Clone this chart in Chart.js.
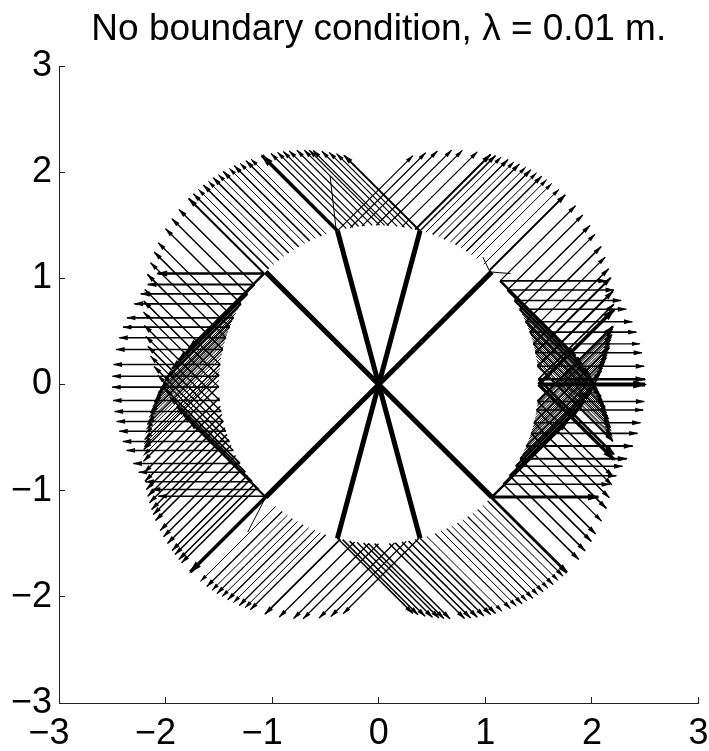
<!DOCTYPE html>
<html>
<head>
<meta charset="utf-8">
<title>No boundary condition</title>
<script src="https://cdn.jsdelivr.net/npm/chart.js@4/dist/chart.umd.min.js"></script>
<style>
    html, body { margin: 0; padding: 0; background: #fff; }
    canvas { display: block; }
</style>
</head>
<body>
<canvas id="chart-rays" width="709" height="751"></canvas>
<script>
const titleText = 'No boundary condition, \u03bb = 0.01 m.';
const axisTicks = [-3, -2, -1, 0, 1, 2, 3];

// spokes from the origin out to the circle
const spokeX = [1.061, 0.388, -0.388, -1.061, -1.061, -0.388, 0.388, 1.061];
const spokeY = [1.061, 1.449, 1.449, 1.061, -1.061, -1.449, -1.449, -1.061];

// thin stubs without a head: x0, y0, x1, y1
const stubX0 = [1.04, 1.05, -0.40, -1.06];
const stubY0 = [1.067, 1.06, 1.46, -1.06];
const stubX1 = [0.977, 1.236, -0.456, -1.229];
const stubY1 = [1.20, 1.045, 1.96, -1.39];

// ray start points on the circle, sector by sector
const rightX = [1.139, 1.207, 1.274, 1.322, 1.379, 1.417, 1.450, 1.470, 1.490, 1.499, 1.500, 1.491, 1.481, 1.456, 1.428, 1.383, 1.327, 1.287, 1.229, 1.169, 1.061];
const rightY = [0.976, 0.890, 0.791, 0.709, 0.591, 0.493, 0.383, 0.299, 0.172, 0.050, 0.000, -0.160, -0.240, -0.360, -0.460, -0.580, -0.700, -0.770, -0.860, -0.940, -1.060];
const rightFlatWidth = [1.6, 1.6, 1.6, 1.6, 1.6, 1.6, 1.3, 1.6, 1.6, 2.5, 4, 1.6, 1.3, 1.6, 1.6, 2, 2, 1.6, 1.6, 1.6, 3];
const rightUpWidth = [1.3, 1.3, 1.6, 1.3, 1.6, 1.3, 1.6, 2, 2, 1.6, 3.5, 2.5, 1.6, 1.6, 1.3, 1.6, 2, 2.4, 2.4, 2.4, 2.4];
const rightDownWidth = [2.4, 2.4, 2.4, 2.4, 2, 1.6, 1.6, 1.3, 1.6, 2.5, 3.5, 1.6, 1.3, 1.6, 1.6, 1.3, 1.6, 1.6, 1.6, 1.6, 1.8];

// the black wedges of arrow heads right of the circle need many more rays
const rightUpDenseX = [1.489, 1.486, 1.481, 1.477, 1.473, 1.465, 1.460, 1.454, 1.446, 1.437, 1.429, 1.418, 1.409, 1.396, 1.383, 1.366, 1.347];
const rightUpDenseY = [-0.185, -0.205, -0.240, -0.262, -0.285, -0.320, -0.345, -0.370, -0.400, -0.430, -0.455, -0.490, -0.515, -0.550, -0.580, -0.620, -0.660];
const rightDownDenseX = [1.488, 1.485, 1.481, 1.475, 1.470, 1.464, 1.459, 1.450, 1.443, 1.434, 1.424, 1.414, 1.403, 1.392, 1.375, 1.361, 1.345];
const rightDownDenseY = [0.190, 0.215, 0.235, 0.270, 0.300, 0.325, 0.350, 0.385, 0.410, 0.440, 0.470, 0.500, 0.530, 0.560, 0.600, 0.630, 0.665];
const rightDenseWidth = [1, 1, 1, 1, 1, 1, 1, 1, 1, 1, 1, 1, 1, 1, 1, 1, 1];

const leftX = [-1.076, -1.167, -1.233, -1.293, -1.362, -1.399, -1.434, -1.463, -1.488, -1.498, -1.500, -1.492, -1.478, -1.459, -1.434, -1.401, -1.365, -1.302, -1.252, -1.188, -1.128, -1.069];
const leftY = [1.045, 0.942, 0.854, 0.760, 0.628, 0.540, 0.440, 0.330, 0.188, 0.078, -0.025, -0.151, -0.254, -0.348, -0.440, -0.537, -0.621, -0.744, -0.826, -0.916, -0.989, -1.052];
const leftFlatWidth = [2.5, 1.8, 1.8, 1.8, 1.6, 1.6, 1.6, 1.6, 1.6, 1.6, 1.6, 1.6, 1.6, 1.6, 1.6, 1.6, 1.6, 1.6, 1.6, 1.6, 1.6, 1.6];
const leftUpWidth = [2, 1.5, 1.5, 1.5, 1.3, 1.5, 1.3, 1.5, 1.3, 1.5, 1.3, 1.5, 1.3, 1.5, 1.3, 1.5, 1.3, 1.8, 1.8, 2, 2, 2];

const leftDownX = [-1.076, -1.167, -1.233, -1.293, -1.362, -1.399, -1.434, -1.463, -1.488, -1.497, -1.500, -1.495, -1.486, -1.473, -1.460, -1.444, -1.424, -1.408, -1.386, -1.343, -1.312, -1.275, -1.232, -1.204, -1.168, -1.142, -1.061];
const leftDownY = [1.045, 0.942, 0.854, 0.760, 0.628, 0.540, 0.440, 0.330, 0.189, 0.095, -0.015, -0.124, -0.204, -0.282, -0.345, -0.407, -0.470, -0.517, -0.573, -0.668, -0.727, -0.790, -0.856, -0.894, -0.941, -0.972, -1.060];
const leftDownWidth = [2.4, 2.4, 2.4, 2.2, 1.5, 1.3, 1.5, 1.5, 1.5, 1.5, 1.5, 1.5, 1.5, 1.5, 1.5, 1.5, 1.5, 1.5, 1.5, 1.5, 1.5, 1.5, 1.5, 1.5, 1.5, 1.5, 3.5];

const leftDenseX = [-1.316, -1.342, -1.375, -1.387, -1.414, -1.424, -1.446, -1.456, -1.472, -1.479, -1.492, -1.495, -1.499];
const leftDenseY = [0.720, 0.670, 0.600, 0.570, 0.500, 0.470, 0.400, 0.360, 0.290, 0.250, 0.150, 0.120, 0.040];
const leftDenseWidth = [1, 1, 1, 1, 1, 1, 1, 1, 1, 1, 1, 1, 1];

const upperRightX = [0.388, 0.441, 0.506, 0.562, 0.612, 0.672, 0.720, 0.773, 0.821, 0.869, 0.917, 0.984, 1.042];
const upperRightY = [1.449, 1.434, 1.412, 1.391, 1.369, 1.341, 1.316, 1.286, 1.255, 1.223, 1.187, 1.132, 1.079];
const upperRightWidth = [1.5, 1, 1.5, 1, 1.5, 1, 1.5, 1, 1.5, 1, 1, 1, 2];

const topUpX = [-0.386, -0.267, -0.157, -0.023, 0.077, 0.217, 0.342];
const topUpY = [1.449, 1.476, 1.492, 1.500, 1.498, 1.484, 1.460];
const topUpWidth = [1.2, 1.2, 1.2, 1.2, 1.2, 1.2, 2];

const topLeftX = [0.382, 0.311, 0.242, 0.173, 0.092, 0.055, 0.008, -0.061, -0.133, -0.189, -0.242, -0.304, -0.388];
const topLeftY = [1.451, 1.467, 1.480, 1.490, 1.497, 1.499, 1.500, 1.499, 1.494, 1.488, 1.480, 1.469, 1.449];
const topLeftWidth = [2, 1.2, 1.2, 1.2, 1.2, 1.2, 1.2, 1.2, 1.2, 1.2, 1.2, 1.2, 3.5];

const upperLeftX = [-1.032, -0.985, -0.938, -0.891, -0.845, -0.798, -0.751, -0.695, -0.648, -0.594, -0.538, -0.492];
const upperLeftY = [1.089, 1.131, 1.171, 1.207, 1.239, 1.270, 1.298, 1.329, 1.353, 1.377, 1.400, 1.417];
const upperLeftWidth = [1.5, 1, 1.5, 1, 1.5, 1, 1.5, 1, 1.5, 1, 1.5, 1];

const lowerLeftX = [-0.966, -0.906, -0.857, -0.810, -0.763, -0.710, -0.657, -0.601, -0.548, -0.498];
const lowerLeftY = [-1.148, -1.196, -1.231, -1.263, -1.291, -1.321, -1.348, -1.374, -1.396, -1.415];
const lowerLeftWidth = [1, 1.3, 1, 1.3, 1, 1.3, 1, 1.3, 1, 1.3];

const bottomDownX = [-0.360, -0.226, -0.092, -0.002, 0.148, 0.258, 0.373];
const bottomDownY = [-1.456, -1.483, -1.497, -1.500, -1.493, -1.478, -1.453];
const bottomDownWidth = [1.8, 1.3, 1.3, 1.3, 1.3, 1.3, 1.3];

const bottomRightX = [-0.388, -0.339, -0.273, -0.204, -0.142, -0.096, -0.039, 0.098, 0.154, 0.217, 0.279, 0.342, 0.388];
const bottomRightY = [-1.449, -1.461, -1.475, -1.486, -1.493, -1.497, -1.499, -1.497, -1.492, -1.484, -1.474, -1.460, -1.449];
const bottomRightWidth = [1.5, 1.5, 1.5, 1.5, 1.5, 1.5, 1.5, 1.5, 1.5, 1.5, 1.5, 1.5, 1.5];

const lowerRightX = [0.451, 0.529, 0.585, 0.638, 0.685, 0.738, 0.788, 0.835, 0.882, 0.929, 0.976, 1.022, 1.053];
const lowerRightY = [-1.431, -1.404, -1.381, -1.358, -1.334, -1.306, -1.276, -1.246, -1.213, -1.178, -1.139, -1.098, -1.068];
const lowerRightWidth = [1, 1.2, 1, 1.2, 1, 1.2, 1, 1.2, 1, 1.2, 1, 1.3, 1.5];

// all rays have length 1
const DIAGONAL = 0.7071;
const EAST = [1, 0];
const WEST = [-1, 0];
const NORTH_EAST = [DIAGONAL, DIAGONAL];
const NORTH_WEST = [-DIAGONAL, DIAGONAL];
const SOUTH_WEST = [-DIAGONAL, -DIAGONAL];
const SOUTH_EAST = [DIAGONAL, -DIAGONAL];

let datasets = [];

function addSegment(x0, y0, x1, y1, width, arrow)
{
    datasets.push({
        data: [{x: x0, y: y0}, {x: x1, y: y1}],
        borderColor: '#000',
        borderWidth: width,
        pointRadius: 0,
        showLine: true,
        isArrow: arrow
    });
}

function addRays(xs, ys, dir, widths)
{
    xs.forEach((x, i) => {
        addSegment(x, ys[i], x + dir[0], ys[i] + dir[1], widths[i], true);
    });
}

addRays(rightX, rightY, NORTH_EAST, rightUpWidth);
addRays(rightX, rightY, SOUTH_EAST, rightDownWidth);
addRays(rightUpDenseX, rightUpDenseY, NORTH_EAST, rightDenseWidth);
addRays(rightDownDenseX, rightDownDenseY, SOUTH_EAST, rightDenseWidth);
addRays(rightX, rightY, EAST, rightFlatWidth);
addRays(leftX, leftY, NORTH_WEST, leftUpWidth);
addRays(leftDownX, leftDownY, SOUTH_WEST, leftDownWidth);
addRays(leftDenseX, leftDenseY, SOUTH_WEST, leftDenseWidth);
addRays(leftX, leftY, WEST, leftFlatWidth);
addRays(upperRightX, upperRightY, NORTH_EAST, upperRightWidth);
addRays(topUpX, topUpY, NORTH_EAST, topUpWidth);
addRays(topLeftX, topLeftY, NORTH_WEST, topLeftWidth);
addRays(upperLeftX, upperLeftY, NORTH_WEST, upperLeftWidth);
addRays(lowerLeftX, lowerLeftY, SOUTH_WEST, lowerLeftWidth);
addRays(bottomDownX, bottomDownY, SOUTH_WEST, bottomDownWidth);
addRays(bottomRightX, bottomRightY, SOUTH_EAST, bottomRightWidth);
addRays(lowerRightX, lowerRightY, SOUTH_EAST, lowerRightWidth);

stubX0.forEach((x, i) => {
    addSegment(x, stubY0[i], stubX1[i], stubY1[i], 1, false);
});
spokeX.forEach((x, i) => {
    addSegment(0, 0, x, spokeY[i], 5, false);
});

// filled heads at the end of each ray
const arrowHeads = {
    id: 'arrowHeads',
    afterDatasetsDraw(chart) {
        const ctx = chart.ctx;
        const scaleX = chart.scales.x;
        const scaleY = chart.scales.y;
        ctx.save();
        ctx.fillStyle = '#000';
        chart.data.datasets.forEach((set) => {
            if (!set.isArrow) {
                return;
            }
            const x0 = scaleX.getPixelForValue(set.data[0].x);
            const y0 = scaleY.getPixelForValue(set.data[0].y);
            const x1 = scaleX.getPixelForValue(set.data[1].x);
            const y1 = scaleY.getPixelForValue(set.data[1].y);
            const angle = Math.atan2(y1 - y0, x1 - x0);
            const length = 6 + set.borderWidth * 1.5;
            const half = 1.3 + set.borderWidth * 0.7;
            ctx.save();
            ctx.translate(x1, y1);
            ctx.rotate(angle);
            ctx.beginPath();
            ctx.moveTo(set.borderWidth * 0.5, 0);
            ctx.lineTo(-length, half);
            ctx.lineTo(-length, -half);
            ctx.closePath();
            ctx.fill();
            ctx.restore();
        });
        ctx.restore();
    }
};

const tickFont = { family: '"Liberation Sans", Arial, sans-serif', size: 36 };

function tickLabel(value)
{
    // the minus hangs left of the digit, so pad the other side to keep the digit on the tick
    return value < 0 ? '\u2212' + Math.abs(value) + '\u2007' : String(value);
}

function tickLabelY(value)
{
    return value < 0 ? '\u2212' + Math.abs(value) : String(value);
}

new Chart('chart-rays', {
    type: 'scatter',
    data: { datasets: datasets },
    plugins: [arrowHeads],
    options: {
        responsive: false,
        animation: false,
        layout: { padding: { top: 0, right: 10.5, bottom: 0, left: 0 } },
        plugins: {
            legend: { display: false },
            tooltip: { enabled: false },
            title: {
                display: true,
                text: titleText,
                color: '#000',
                fullSize: false,
                font: { family: '"Liberation Sans", Arial, sans-serif', size: 37, weight: 'normal', lineHeight: 1.2 },
                padding: { top: 8, bottom: 13.6 }
            }
        },
        scales: {
            x: {
                type: 'linear',
                min: axisTicks[0],
                max: axisTicks[axisTicks.length - 1],
                afterBuildTicks: (scale) => { scale.ticks = axisTicks.map((v) => ({ value: v })); },
                afterFit: (scale) => { scale.height = 48; scale.paddingLeft = 0; scale.paddingRight = 0; },
                border: { color: '#222', width: 1 },
                grid: { drawOnChartArea: false, tickLength: -6, color: '#222' },
                ticks: { color: '#000', font: tickFont, padding: 15, maxRotation: 0, autoSkip: false, callback: tickLabel }
            },
            y: {
                type: 'linear',
                min: axisTicks[0],
                max: axisTicks[axisTicks.length - 1],
                afterBuildTicks: (scale) => { scale.ticks = axisTicks.map((v) => ({ value: v })); },
                afterFit: (scale) => { scale.width = 59; scale.paddingTop = 0; scale.paddingBottom = 0; },
                border: { color: '#222', width: 1 },
                grid: { drawOnChartArea: false, tickLength: -6, color: '#222' },
                ticks: { color: '#000', font: tickFont, padding: 13, autoSkip: false, callback: tickLabelY }
            }
        }
    }
});
</script>
</body>
</html>
